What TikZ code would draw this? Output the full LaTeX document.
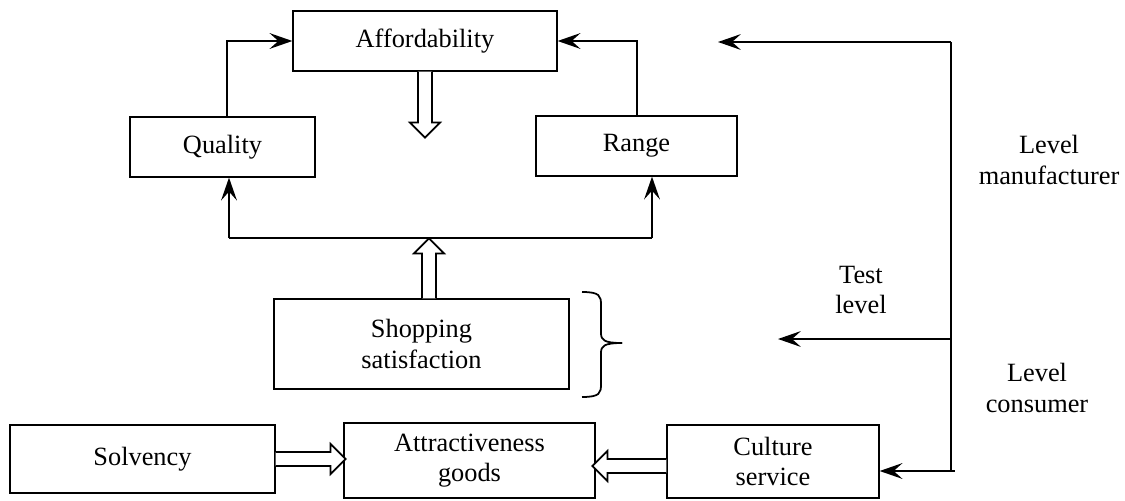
\documentclass[tikz,border=0pt]{standalone}
\usepackage{fontspec}
\setmainfont{Liberation Serif}
\usetikzlibrary{arrows.meta}
\def\pxu{0.02cm}
\tikzset{
  box/.style={draw, line width=0.7pt, inner sep=0pt, align=center, font=\fontsize{15}{17.5}\selectfont},
  link/.style={line width=1pt, -{Stealth[length=13pt,width=9pt,inset=5pt]}},
  lbl/.style={align=center, font=\fontsize{15}{17.5}\selectfont}
}
% hollow block arrow: start, angle, length
\newcommand{\hollowarrow}[3]{%
  \draw[line width=1pt, fill=white, shift={(#1)}, rotate=#2]
    (0,-7) -- (#3-15,-7) -- (#3-15,-15) -- (#3,0) -- (#3-15,15) -- (#3-15,7) -- (0,7);}
\begin{document}
\begin{tikzpicture}[x=\pxu, y=\pxu]
	\useasboundingbox (0,0) rectangle (1125,-500);
	%boxes
	\node[box, minimum width=264*\pxu, minimum height=60*\pxu] (afford) at (425,-41) {Affordability};
	\node[box, minimum width=185*\pxu, minimum height=60*\pxu] (quality) at (222.5,-147) {Quality};
	\node[box, minimum width=201*\pxu, minimum height=60*\pxu] (range) at (636.5,-146) {Range};
	\node[box, minimum width=295*\pxu, minimum height=90*\pxu] (shop) at (421.5,-344) {Shopping\\satisfaction};
	\node[box, minimum width=265*\pxu, minimum height=68*\pxu] (solv) at (142.5,-459) {Solvency};
	\node[box, minimum width=251*\pxu, minimum height=75*\pxu] (attr) at (469.5,-460.5) {Attractiveness\\goods};
	\node[box, minimum width=212*\pxu, minimum height=73*\pxu] (cult) at (773,-461.5) {Culture\\service};
	%labels
	\node[lbl] (manu) at (1049,-160) {Level\\manufacturer};
	\node[lbl] (test) at (861,-290) {Test\\level};
	\node[lbl] (cons) at (1037,-388) {Level\\consumer};
	%upper loop
	\draw[link] (quality.north -| 227,0) |- (afford.west |- 0,-41);
	\draw[link] (range.north -| 637,0) |- (afford.east |- 0,-41);
	\coordinate (jl) at (229,-238);
	\coordinate (jr) at (652,-238);
	\draw[line width=1pt] (jl) -- (jr);
	\draw[link] (jl) -- (jl |- quality.south);
	\draw[link] (jr) -- (jr |- range.south);
	%hollow arrows
	\hollowarrow{afford.south}{-90}{66}
	\hollowarrow{shop.north -| 429,0}{90}{60}
	\hollowarrow{solv.east}{0}{70}
	\hollowarrow{cult.west |- 0,-466}{180}{74}
	%bracket
	\draw[line width=1pt] (582,-292) .. controls (600,-292) and (601,-296) .. (601,-305)
	  -- (601,-333) .. controls (601,-340) and (604,-343) .. (622,-343);
	\draw[line width=1pt] (582,-397) .. controls (600,-397) and (601,-393) .. (601,-384)
	  -- (601,-353) .. controls (601,-346) and (604,-343) .. (622,-343);
	%right bus
	\coordinate (bt) at (951,-42);
	\coordinate (bm) at (951,-339);
	\coordinate (bb) at (955,-471);
	\draw[line width=1pt] (bt) -- (951,-471) -- (bb);
	\draw[link] (bt) -- (718,-42);
	\draw[link] (bm) -- (778,-339);
	\draw[link] (951,-471) -- (cult.east |- 0,-471);
\end{tikzpicture}
\end{document}
